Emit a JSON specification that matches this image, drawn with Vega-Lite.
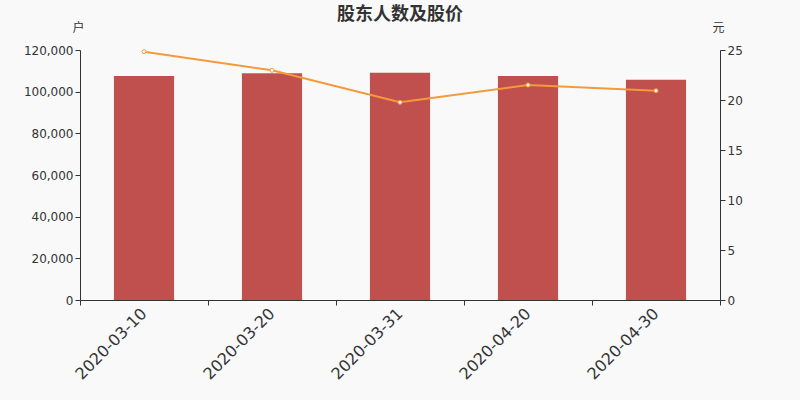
{
  "$schema": "https://vega.github.io/schema/vega-lite/v6.json",
  "width": 640,
  "height": 250,
  "autosize": "none",
  "padding": {"left": 80, "top": 50, "right": 80, "bottom": 100},
  "background": "#f9f9f9",
  "title": {
    "text": "股东人数及股价",
    "fontSize": 18,
    "fontWeight": "bold",
    "color": "#333333",
    "font": "Noto Sans CJK SC",
    "offset": -3
  },
  "config": {
    "view": {"stroke": null},
    "axis": {
      "labelFont": "DejaVu Sans",
      "labelColor": "#333333",
      "domainColor": "#333333",
      "tickColor": "#333333",
      "grid": false,
      "titleFont": "Noto Sans CJK SC",
      "titleFontWeight": "normal",
      "titleColor": "#333333",
      "titleFontSize": 12
    }
  },
  "data": {
    "values": [
      {"date": "2020-03-10", "holders": 107500, "price": 24.83},
      {"date": "2020-03-20", "holders": 108800, "price": 22.97},
      {"date": "2020-03-31", "holders": 109100, "price": 19.77},
      {"date": "2020-04-20", "holders": 107500, "price": 21.5},
      {"date": "2020-04-30", "holders": 105750, "price": 20.93}
    ]
  },
  "encoding": {
    "x": {
      "field": "date",
      "type": "ordinal",
      "scale": {"paddingInner": 0, "paddingOuter": 0},
      "axis": {
        "title": null,
        "labelAngle": -45,
        "labelFontSize": 16,
        "tickBand": "extent",
        "tickSize": 5,
        "labelPadding": 0,
        "labelOffset": -6
      }
    }
  },
  "layer": [
    {
      "mark": {"type": "bar", "color": "#c0504d", "width": {"band": 0.47}},
      "encoding": {
        "y": {
          "field": "holders",
          "type": "quantitative",
          "scale": {"domain": [0, 120000]},
          "axis": {
            "title": "户",
            "titleAngle": 0,
            "titleX": -2,
            "titleY": -16,
            "titleAlign": "center",
            "values": [0, 20000, 40000, 60000, 80000, 100000, 120000],
            "format": ",d",
            "labelFontSize": 12,
            "tickSize": 5
          }
        }
      }
    },
    {
      "mark": {
        "type": "line",
        "color": "#f5993b",
        "strokeWidth": 2,
        "point": {"filled": false, "fill": "white", "stroke": "#f5993b", "size": 16, "strokeWidth": 1}
      },
      "encoding": {
        "y": {
          "field": "price",
          "type": "quantitative",
          "scale": {"domain": [0, 25]},
          "axis": {
            "title": "元",
            "orient": "right",
            "titleAngle": 0,
            "titleX": -2,
            "titleY": -16,
            "titleAlign": "center",
            "values": [0, 5, 10, 15, 20, 25],
            "labelFontSize": 12,
            "tickSize": 5
          }
        }
      }
    }
  ],
  "resolve": {"scale": {"y": "independent"}}
}
